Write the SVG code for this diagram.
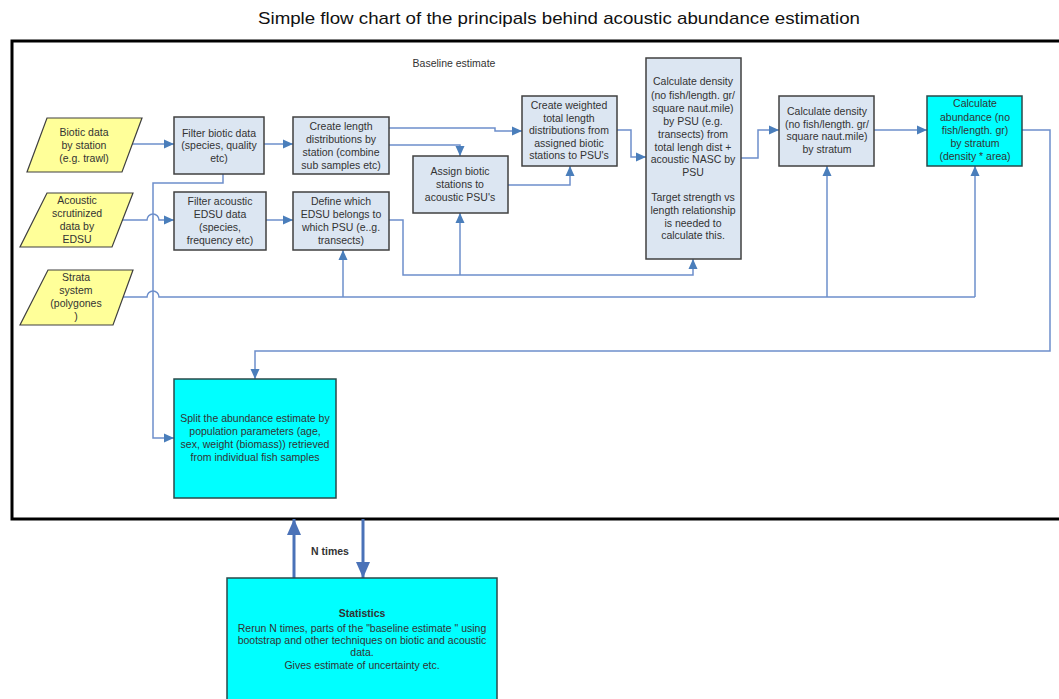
<svg xmlns="http://www.w3.org/2000/svg" width="1059" height="699" viewBox="0 0 1059 699">
<defs>
<marker id="ah" markerUnits="userSpaceOnUse" markerWidth="10" markerHeight="10" viewBox="0 0 10 10" refX="10" refY="5" orient="auto">
<path d="M0,0.5 L10,5 L0,9.5 Z" fill="#4a7ebb"/>
</marker>
<marker id="big" markerUnits="userSpaceOnUse" markerWidth="14" markerHeight="16" viewBox="0 0 14 16" refX="16" refY="7" orient="auto">
<path d="M0,0 L16,7 L0,14 Z" fill="#4a72b8"/>
</marker>
</defs>
<style>
text{font-family:"Liberation Sans",Arial,sans-serif;font-size:10.5px;fill:#333;text-anchor:middle}
.title{font-size:17px;fill:#111}
.bold{font-weight:bold}
.box{fill:#dce6f2;stroke:#404040;stroke-width:1.5}
.cyan{fill:#00ffff;stroke:#2a4a4a;stroke-width:1.5}
.para{fill:#ffff99;stroke:#404040;stroke-width:1.2}
.c{fill:none;stroke:#6d8fcb;stroke-width:1.5}
.ca{fill:none;stroke:#6d8fcb;stroke-width:1.5;marker-end:url(#ah)}
.thick{fill:none;stroke:#4a72b8;stroke-width:3;marker-end:url(#big)}
</style>
<rect width="1059" height="699" fill="#fff"/>
<text class="title" x="559" y="24" textLength="602" lengthAdjust="spacingAndGlyphs">Simple flow chart of the principals behind acoustic abundance estimation</text>
<rect x="12" y="41" width="1070" height="478" fill="none" stroke="#000" stroke-width="3"/>
<text x="454" y="67">Baseline estimate</text>

<g id="connectors">
<path class="ca" d="M132,144 H174"/>
<path class="ca" d="M264,144 H293"/>
<path class="ca" d="M389,128 H495 V131 H522"/>
<path class="ca" d="M389,145 H460 V156"/>
<path class="ca" d="M508,185 H570 V166"/>
<path class="ca" d="M617,130 H631 V157 H646"/>
<path class="ca" d="M122,220 H147 A6,6 0 0 1 159,220 H174"/>
<path class="ca" d="M266,220 H293"/>
<path class="ca" d="M389,220 H403 V275 H693 V259"/>
<path class="ca" d="M460,275 V213"/>
<path class="c" d="M123,297 H147 A6,6 0 0 1 159,297 H975"/>
<path class="ca" d="M343,297 V250"/>
<path class="ca" d="M827,297 V166"/>
<path class="ca" d="M975,297 V166"/>
<path class="ca" d="M741,158 H758 V130 H779"/>
<path class="ca" d="M874,130 H927"/>
<path class="ca" d="M1022,130 H1050 V351 H255 V379"/>
<path class="ca" d="M223,174 V183 H153 V438 H174"/>
<path class="thick" d="M294,578 V519"/>
<path class="thick" d="M363,519 V578"/>
<text class="bold" x="330" y="555">N times</text>
</g>

<g id="biotic-data">
<polygon class="para" points="47,118 142,118 122,172 27,172"/>
<text x="84" y="136">Biotic data</text>
<text x="84" y="149">by station</text>
<text x="84" y="162">(e.g. trawl)</text>
</g>
<g id="acoustic-data">
<polygon class="para" points="47,193 133,193 112,247 20,247"/>
<text x="77" y="204">Acoustic</text>
<text x="77" y="217">scrutinized</text>
<text x="77" y="230">data by</text>
<text x="77" y="243">EDSU</text>
</g>
<g id="strata">
<polygon class="para" points="48,270 133,270 113,325 20,325"/>
<text x="76" y="281">Strata</text>
<text x="76" y="294">system</text>
<text x="76" y="307">(polygones</text>
<text x="76" y="320">)</text>
</g>

<g id="filter-biotic">
<rect class="box" x="174" y="117" width="90" height="57"/>
<text x="219" y="136.5">Filter biotic data</text>
<text x="219" y="149">(species, quality</text>
<text x="219" y="161.5">etc)</text>
</g>
<g id="create-length">
<rect class="box" x="293" y="117" width="96" height="57"/>
<text x="341" y="130">Create length</text>
<text x="341" y="143">distributions by</text>
<text x="341" y="156">station (combine</text>
<text x="341" y="169">sub samples etc)</text>
</g>
<g id="filter-acoustic">
<rect class="box" x="174" y="192" width="92" height="58"/>
<text x="220" y="205">Filter acoustic</text>
<text x="220" y="218">EDSU data</text>
<text x="220" y="231">(species,</text>
<text x="220" y="244">frequency etc)</text>
</g>
<g id="define-psu">
<rect class="box" x="293" y="192" width="96" height="58"/>
<text x="341" y="205">Define which</text>
<text x="341" y="218">EDSU belongs to</text>
<text x="341" y="231">which PSU (e..g.</text>
<text x="341" y="244">transects)</text>
</g>
<g id="assign-biotic">
<rect class="box" x="413" y="156" width="95" height="57"/>
<text x="460" y="175">Assign biotic</text>
<text x="460" y="188">stations to</text>
<text x="460" y="201">acoustic PSU's</text>
</g>
<g id="create-weighted">
<rect class="box" x="522" y="96" width="95" height="70"/>
<text x="569" y="109">Create weighted</text>
<text x="569" y="121.5">total length</text>
<text x="569" y="134">distributions from</text>
<text x="569" y="146.5">assigned biotic</text>
<text x="569" y="159">stations to PSU's</text>
</g>
<g id="density-psu">
<rect class="box" x="646" y="58" width="95" height="201"/>
<text x="693" y="85">Calculate density</text>
<text x="693" y="98.5">(no fish/length. gr/</text>
<text x="693" y="111.5">square naut.mile)</text>
<text x="693" y="124.5">by PSU (e.g.</text>
<text x="693" y="137.5">transects) from</text>
<text x="693" y="150.5">total lengh dist +</text>
<text x="693" y="163">acoustic NASC by</text>
<text x="693" y="175.5">PSU</text>
<text x="693" y="201">Target strength vs</text>
<text x="693" y="214">length relationship</text>
<text x="693" y="226.5">is needed to</text>
<text x="693" y="239">calculate this.</text>
</g>
<g id="density-stratum">
<rect class="box" x="779" y="96" width="95" height="70"/>
<text x="827" y="115">Calculate density</text>
<text x="827" y="127.5">(no fish/length. gr/</text>
<text x="827" y="140">square naut.mile)</text>
<text x="827" y="152.5">by stratum</text>
</g>
<g id="abundance">
<rect class="cyan" x="927" y="96" width="95" height="70"/>
<text x="975" y="107">Calculate</text>
<text x="975" y="120.5">abundance (no</text>
<text x="975" y="133.5">fish/length. gr)</text>
<text x="975" y="146.5">by stratum</text>
<text x="975" y="160">(density * area)</text>
</g>
<g id="split">
<rect class="cyan" x="174" y="379" width="162" height="119"/>
<text x="255" y="422">Split the abundance estimate by</text>
<text x="255" y="435">population parameters (age,</text>
<text x="255" y="448">sex, weight (biomass)) retrieved</text>
<text x="255" y="461">from individual fish samples</text>
</g>
<g id="statistics">
<rect class="cyan" x="227" y="578" width="270" height="140"/>
<text class="bold" x="362" y="617">Statistics</text>
<text x="362" y="631.5">Rerun N times, parts of the "baseline estimate " using</text>
<text x="362" y="643.5">bootstrap and other techniques on biotic and acoustic</text>
<text x="362" y="656">data.</text>
<text x="362" y="668.5">Gives estimate of uncertainty etc.</text>
</g>
</svg>
